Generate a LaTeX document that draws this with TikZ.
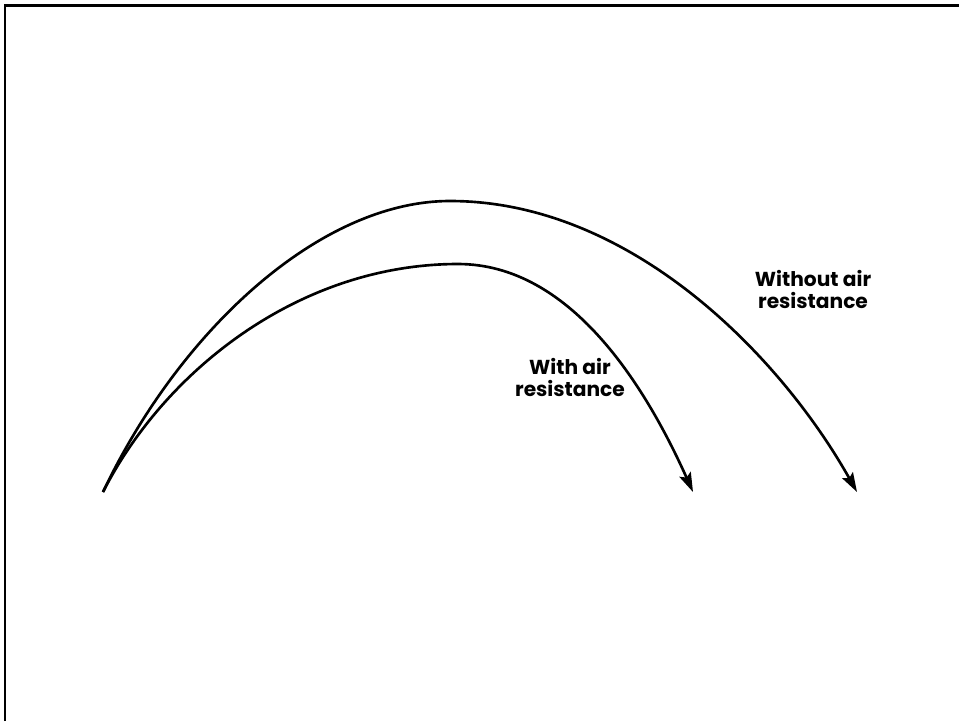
\documentclass[tikz,border=0pt]{standalone}
\usepackage{fontspec}
\setmainfont{Poppins}
\usetikzlibrary{arrows.meta}

\begin{document}
\begin{tikzpicture}[
    x=0.02cm, y=-0.02cm,
    every node/.style={font=\fontsize{11.5}{12.5}\selectfont\bfseries},
    % Stijl voor de baankrommen
    path/.style={line width=1.5pt, -{Stealth[length=11pt, width=7pt, inset=2pt]}},
    label/.style={align=center, inner sep=0pt},
    frame/.style={line width=1.6pt}
]
\useasboundingbox (0,0) rectangle (959,721);

% --- Kader (alleen boven en links zichtbaar) ---
\coordinate (fbl) at (5,721);
\coordinate (ftl) at (5,5.5);
\coordinate (ftr) at (959,5.5);
\draw[frame] (fbl) -- (ftl) -- (ftr);

% --- Punten van de banen ---
\coordinate (launch) at (103,492);
\coordinate (topfree) at (450,201);
\coordinate (endfree) at (857,492);
\coordinate (topair) at (458,264);
\coordinate (endair) at (693,492);

% --- Banen ---
\draw[path] (launch) .. controls (180,330) and (320,201) .. (topfree)
    .. controls (630,201) and (780,355) .. (endfree);
\draw[path] (launch) .. controls (165,370) and (300,264) .. (topair)
    .. controls (570,264) and (645,385) .. (endair);

% --- Labels ---
\node[label] (lfree) at (813,289) {Without air\\resistance};
\node[label] (lair) at (570,377) {With air\\resistance};

\end{tikzpicture}
\end{document}
